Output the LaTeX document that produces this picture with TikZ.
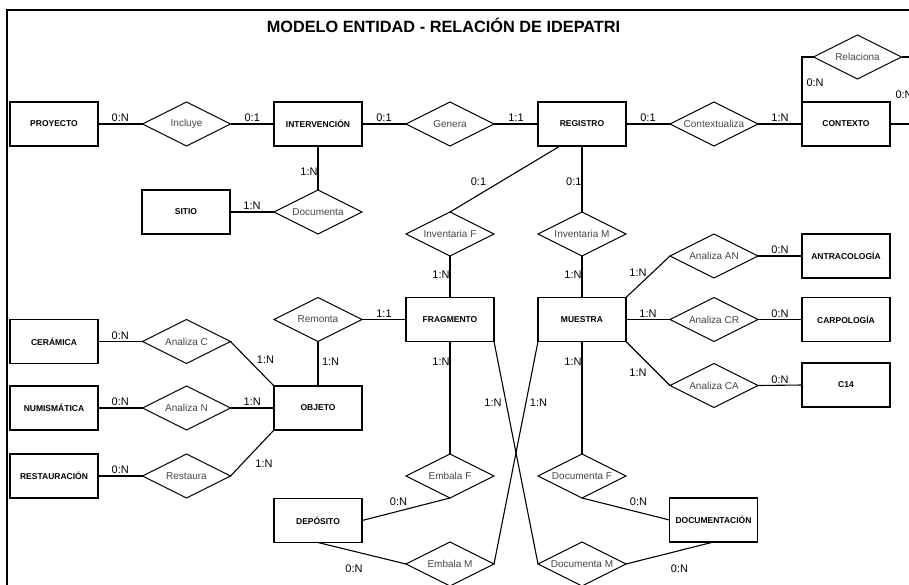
\documentclass[tikz,border=0pt]{standalone}
\usepackage{fontspec}
\setmainfont{Liberation Sans}
\usetikzlibrary{shapes.geometric,calc}
\begin{document}
\begin{tikzpicture}[x=1pt,y=-1pt,
  ent/.style={draw, line width=1.2pt, minimum width=88pt, minimum height=44pt, inner sep=0pt, outer sep=0pt, font=\fontsize{8.5}{10}\selectfont\bfseries},
  rel/.style={draw, diamond, line width=1pt, minimum width=88pt, minimum height=44pt, inner sep=0pt, outer sep=0pt},
  reltxt/.style={font=\fontsize{10}{12}\selectfont, text=black!72, inner sep=0pt},
  card/.style={font=\fontsize{11}{13}\selectfont, inner sep=1.5pt},
  cardv/.style={font=\fontsize{11}{13}\selectfont, inner sep=0.3pt},
  conn/.style={line width=1.1pt},
]
\useasboundingbox (0,0) rectangle (909,584);
\clip (0,0) rectangle (909,584);
\fill[white] (0,0) rectangle (909,584);
% frame
\draw[line width=2pt] (7,600) -- (7,10);
\draw[line width=1.6pt] (6,10) -- (930,10);
\node[font=\fontsize{16.3}{19}\selectfont\bfseries] (title) at (443.5,25.5) {MODELO ENTIDAD - RELACIÓN DE IDEPATRI};

% entities
\node[ent] (proyecto) at (54,124) {PROYECTO};
\node[ent] (intervencion) at (318,124) {INTERVENCIÓN};
\node[ent] (registro) at (582,124) {REGISTRO};
\node[ent] (contexto) at (846,124) {CONTEXTO};
\node[ent] (sitio) at (186,212) {SITIO};
\node[ent] (antraco) at (846,256) {ANTRACOLOGÍA};
\node[ent] (fragmento) at (450,319.5) {FRAGMENTO};
\node[ent] (muestra) at (582,319.5) {MUESTRA};
\node[ent] (carpo) at (846,319.5) {CARPOLOGÍA};
\node[ent] (ceramica) at (54,341.5) {CERÁMICA};
\node[ent] (ecatorce) at (846,385) {C14};
\node[ent] (numis) at (54,408) {NUMISMÁTICA};
\node[ent] (objeto) at (318,408) {OBJETO};
\node[ent] (restaur) at (54,476) {RESTAURACIÓN};
\node[ent] (deposito) at (318,520.5) {DEPÓSITO};
\node[ent] (documentacion) at (713.5,520) {DOCUMENTACIÓN};

% relationships
\node[rel, label={[reltxt]center:Incluye}] (incluye) at (186.5,124) {};
\node[rel, label={[reltxt]center:Genera}] (genera) at (450,124) {};
\node[rel, label={[reltxt]center:Contextualiza}] (contextualiza) at (714,124) {};
\node[rel, label={[reltxt]center:Relaciona}] (relaciona) at (857.5,57) {};
\node[rel, label={[reltxt]center:Documenta}] (documenta) at (318,212) {};
\node[rel, label={[reltxt]center:Inventaria F}] (invf) at (450,234) {};
\node[rel, label={[reltxt]center:Inventaria M}] (invm) at (582,234) {};
\node[rel, label={[reltxt]center:Analiza AN}] (analizaan) at (714,256) {};
\node[rel, label={[reltxt]center:Remonta}] (remonta) at (318,319.5) {};
\node[rel, label={[reltxt]center:Analiza CR}] (analizacr) at (714,319.5) {};
\node[rel, label={[reltxt]center:Analiza C}] (analizac) at (186.5,341.5) {};
\node[rel, label={[reltxt]center:Analiza CA}] (analizaca) at (714,385.5) {};
\node[rel, label={[reltxt]center:Analiza N}] (analizan) at (186.5,408) {};
\node[rel, label={[reltxt]center:Restaura}] (restaura) at (186.5,476) {};
\node[rel, label={[reltxt]center:Embala F}] (embalaf) at (450,476) {};
\node[rel, label={[reltxt]center:Documenta F}] (documentaf) at (582,476) {};
\node[rel, label={[reltxt]center:Embala M}] (embalam) at (450,564) {};
\node[rel, label={[reltxt]center:Documenta M}] (documentam) at (582,564) {};

% off-picture loop points
\coordinate (loopA) at (925,57);
\coordinate (loopB) at (925,124);

% horizontal connectors with labels above
\draw[conn] (proyecto.east) -- node[card, above, midway] (lb1) {0:N} (incluye.west);
\draw[conn] (incluye.east) -- node[card, above, midway] (lb2) {0:1} (intervencion.west);
\draw[conn] (intervencion.east) -- node[card, above, midway] (lb3) {0:1} (genera.west);
\draw[conn] (genera.east) -- node[card, above, midway] (lb4) {1:1} (registro.west);
\draw[conn] (registro.east) -- node[card, above, midway] (lb5) {0:1} (contextualiza.west);
\draw[conn] (contextualiza.east) -- node[card, above, midway] (lb6) {1:N} (contexto.west);
\draw[conn] (sitio.east) -- node[card, above, midway] (lb7) {1:N} (documenta.west);
\draw[conn] (remonta.east) -- node[card, above, midway] (lb8) {1:1} (fragmento.west);
\draw[conn] (ceramica.east) -- node[card, above, midway] (lb9) {0:N} (analizac.west);
\draw[conn] (numis.east) -- node[card, above, midway] (lb10) {0:N} (analizan.west);
\draw[conn] (analizan.east) -- node[card, above, midway] (lb11) {1:N} (objeto.west);
\draw[conn] (restaur.east) -- node[card, above, midway] (lb12) {0:N} (restaura.west);
\draw[conn] (muestra.east) -- node[card, above, midway] (lb13) {1:N} (analizacr.west);
\draw[conn] (analizaan.east) -- node[card, above, midway] (lb14) {0:N} (antraco.west);
\draw[conn] (analizacr.east) -- node[card, above, midway] (lb15) {0:N} (carpo.west);
\draw[conn] (analizaca.east) -- node[card, above, midway] (lb16) {0:N} (ecatorce.west);

% self relation of CONTEXTO
\draw[conn] (contexto.north west) |- (relaciona.west);
\draw[conn] (relaciona.east) -- (loopA) -- (loopB) -- (contexto.east);
\node[cardv, anchor=west] (lb17) at (806,83) {0:N};
\node[cardv, anchor=west] (lb18) at (895,95) {0:N};

% vertical connectors
\draw[conn] (intervencion.south) -- (documenta.north);
\node[cardv, anchor=east] (lb19) at (318,172) {1:N};
\draw[conn] (registro.south) -- (invm.north);
\node[cardv, anchor=east] (lb20) at (582,182) {0:1};
\draw[conn] ($(registro.south west)!0.25!(registro.south east)$) -- (invf.north);
\node[cardv] (lb21) at (478.5,182) {0:1};
\draw[conn] (invf.south) -- (fragmento.north);
\node[cardv, anchor=east] (lb22) at (450,275) {1:N};
\draw[conn] (invm.south) -- (muestra.north);
\node[cardv, anchor=east] (lb23) at (582,275) {1:N};
\draw[conn] (remonta.south) -- (objeto.north);
\node[cardv, anchor=west] (lb24) at (321.5,362) {1:N};
\draw[conn] (fragmento.south) -- (embalaf.north);
\node[cardv, anchor=east] (lb25) at (450,362) {1:N};
\draw[conn] (muestra.south) -- (documentaf.north);
\node[cardv, anchor=east] (lb26) at (582,362) {1:N};

% diagonal connectors
\draw[conn] (analizac.east) -- (objeto.north west);
\node[cardv] (lb27) at (265.5,360) {1:N};
\draw[conn] (restaura.east) -- (objeto.south west);
\node[cardv] (lb28) at (264,464) {1:N};
\draw[conn] (embalaf.south) -- (deposito.east);
\node[cardv] (lb29) at (398.5,502) {0:N};
\draw[conn] (deposito.south) -- (embalam.west);
\node[cardv] (lb30) at (354,569) {0:N};
\draw[conn] (embalam.east) -- (muestra.south west);
\node[cardv] (lb31) at (538.5,403) {1:N};
\draw[conn] (fragmento.south east) -- (documentam.west);
\node[cardv] (lb32) at (493,403) {1:N};
\draw[conn] (documentaf.south) -- (documentacion.west);
\node[cardv] (lb33) at (638.5,502) {0:N};
\draw[conn] (documentam.east) -- (documentacion.south);
\node[cardv] (lb34) at (679.5,569) {0:N};
\draw[conn] (muestra.north east) -- (analizaan.west);
\node[cardv] (lb35) at (638,273) {1:N};
\draw[conn] (muestra.south east) -- (analizaca.west);
\node[cardv] (lb36) at (638,373) {1:N};
\end{tikzpicture}
\end{document}
